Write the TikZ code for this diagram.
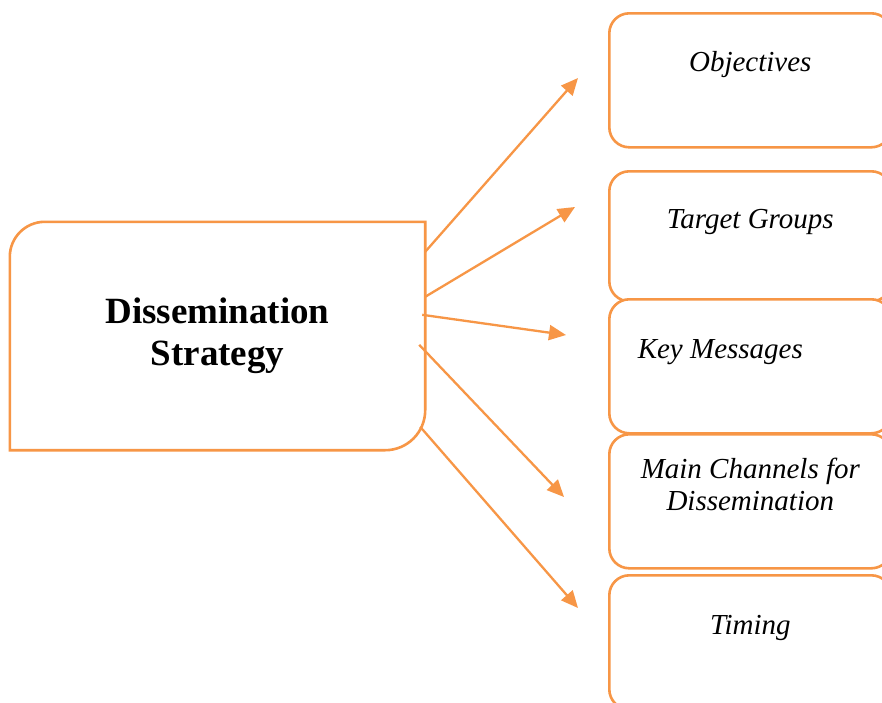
\documentclass[tikz,border=0pt]{standalone}
\usepackage{fontspec}
\setmainfont{Liberation Serif}
\usepackage{tikz}
\usetikzlibrary{calc,positioning,arrows.meta}
\definecolor{boxorange}{HTML}{F79646}

\begin{document}
\begin{tikzpicture}[x=1pt,y=-1pt,
  frame/.style={draw=boxorange, line width=2.6pt},
  itembox/.style={frame, fill=white, rounded corners=20pt, minimum width=282pt, minimum height=134pt, inner sep=0pt, anchor=north west},
  itemtext/.style={font=\fontsize{29}{32}\selectfont\itshape, align=center, anchor=base},
  link/.style={draw=boxorange, line width=2.3pt, -{Triangle[length=17pt,width=15pt]}}]
\clip (0,0) rectangle (882,702);
\fill[white] (0,0) rectangle (882,702);
% strategy box, only two of its corners are rounded
\node[minimum width=415pt, minimum height=228pt, inner sep=0pt, align=center, font=\fontsize{37}{42}\selectfont\bfseries] (strat) at (217.5,336) {Dissemination\\Strategy};
\draw[frame] (strat.south west) [rounded corners=35pt] -- (strat.north west) [sharp corners] -- (strat.north east) [rounded corners=40pt] -- (strat.south east) [sharp corners] -- cycle;
% boxes on the right
\node[itembox] (obj) at (608,12) {};
\node[itembox, minimum height=130pt] (target) at (608,170) {};
\node[itembox] (keymsg) at (608,298) {};
\node[itembox] (channels) at (608,433) {};
\node[itembox] (timing) at (608,574) {};
\node[itemtext] (objlabel) at ($(obj.north)+(0,59)$) {Objectives};
\node[itemtext] (targetlabel) at ($(target.north)+(0,58)$) {Target Groups};
\node[itemtext] (keymsglabel) at ($(keymsg.north)+(-30,60)$) {Key Messages};
\node[itemtext] (channelslabel) at ($(channels.north)+(0,77)$) {Main Channels for\\Dissemination};
\node[itemtext] (timinglabel) at ($(timing.north)+(0,60)$) {Timing};
% arrow ends
\coordinate (t1) at (578,78);
\coordinate (t2) at (575,207);
\coordinate (t3) at (566,335);
\coordinate (t4) at (564,497);
\coordinate (t5) at (578,608);
\draw[link] ($(strat.north east)+(0,30)$) -- (t1);
\draw[link] ($(strat.north east)+(0,75)$) -- (t2);
\draw[link] ($(strat.north east)+(-3,93)$) -- (t3);
\draw[link] ($(strat.north east)+(-6,123)$) -- (t4);
\draw[link] ($(strat.north east)+(-5,205)$) -- (t5);
\end{tikzpicture}
\end{document}
